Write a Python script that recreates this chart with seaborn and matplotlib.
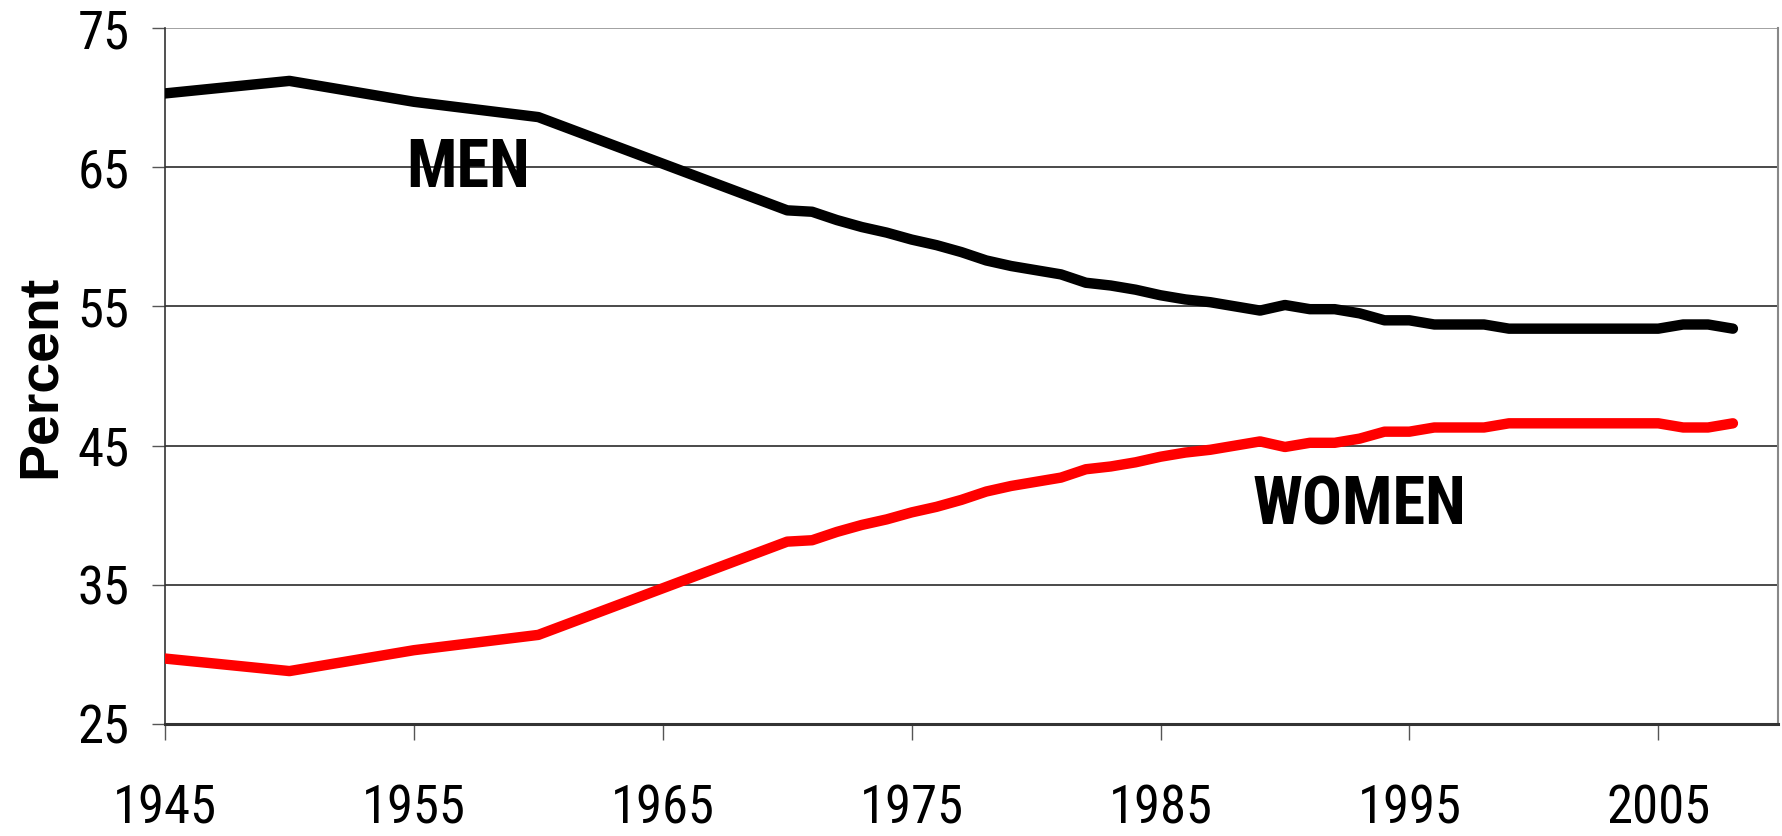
import seaborn as sns
import matplotlib.pyplot as plt
import pandas as pd

years = [1945, 1950, 1955, 1960, 1970, 1971, 1972, 1973, 1974, 1975, 1976, 1977,
         1978, 1979, 1980, 1981, 1982, 1983, 1984, 1985, 1986, 1987, 1988, 1989,
         1990, 1991, 1992, 1993, 1994, 1995, 1996, 1997, 1998, 1999, 2000, 2001,
         2002, 2003, 2004, 2005, 2006, 2007, 2008]

men = [70.3, 71.2, 69.7, 68.6, 61.9, 61.8, 61.2, 60.7, 60.3, 59.8, 59.4, 58.9,
       58.3, 57.9, 57.6, 57.3, 56.7, 56.5, 56.2, 55.8, 55.5, 55.3, 55.0, 54.7,
       55.1, 54.8, 54.8, 54.5, 54.0, 54.0, 53.7, 53.7, 53.7, 53.4, 53.4, 53.4,
       53.4, 53.4, 53.4, 53.4, 53.7, 53.7, 53.4]

women = [29.7, 28.8, 30.3, 31.4, 38.1, 38.2, 38.8, 39.3, 39.7, 40.2, 40.6, 41.1,
         41.7, 42.1, 42.4, 42.7, 43.3, 43.5, 43.8, 44.2, 44.5, 44.7, 45.0, 45.3,
         44.9, 45.2, 45.2, 45.5, 46.0, 46.0, 46.3, 46.3, 46.3, 46.6, 46.6, 46.6,
         46.6, 46.6, 46.6, 46.6, 46.3, 46.3, 46.6]

series_names = ["MEN", "WOMEN"]
x_ticks = [1945, 1955, 1965, 1975, 1985, 1995, 2005]
y_ticks = [25, 35, 45, 55, 65, 75]

df = pd.concat([
    pd.DataFrame({"year": years, "pct": men, "grupo": series_names[0]}),
    pd.DataFrame({"year": years, "pct": women, "grupo": series_names[1]}),
])

sns.set_style("white")
plt.rcParams["font.family"] = ["Roboto Condensed", "DejaVu Sans"]
plt.rcParams["text.color"] = "black"
plt.rcParams["xtick.color"] = "black"
plt.rcParams["ytick.color"] = "black"

fig = plt.figure(figsize=(17.82, 8.36), dpi=100)
ax = fig.add_axes([0.0926, 0.134, 0.905, 0.8325])

# horizontal gridlines (top one lighter, like the chart border)
for y in y_ticks[1:]:
    ax.axhline(y, color="#3a3a3a" if y < 75 else "#9a9a9a", lw=1.3, zorder=1)
n_grid = len(ax.lines)

sns.lineplot(data=df, x="year", y="pct", hue="grupo",
             palette={"MEN": "black", "WOMEN": "#ff0000"},
             legend=False, ax=ax)
for ln in ax.lines[n_grid:]:
    ln.set_linewidth(7.5)
    ln.set_zorder(3)
    ln.set_solid_capstyle("round")
    ln.set_solid_joinstyle("round")

ax.set_xlim(1945, 2009.8)
ax.set_ylim(25, 75)
ax.set_xticks(x_ticks)
ax.set_yticks(y_ticks)
ax.tick_params(axis="x", bottom=True, direction="out", length=11.5, width=1,
               color="#555555", labelcolor="black", pad=31, labelsize=38)
ax.tick_params(axis="y", left=True, direction="out", length=9.5, width=1,
               color="#555555", labelcolor="black", pad=16, labelsize=38)
ax.set_xlabel("")
ax.set_ylabel("Percent", family=["Liberation Sans", "DejaVu Sans"],
              fontweight="bold", fontsize=40, color="black")
ax.yaxis.set_label_coords(-0.061, 0.5)

ax.spines["left"].set_visible(True)
ax.spines["left"].set_color("#333333")
ax.spines["left"].set_linewidth(1.2)
ax.spines["bottom"].set_visible(True)
ax.spines["bottom"].set_color("#333333")
ax.spines["bottom"].set_linewidth(2.2)
ax.spines["right"].set_visible(True)
ax.spines["right"].set_color("#888888")
ax.spines["right"].set_linewidth(1.5)
ax.spines["top"].set_visible(False)

ax.text(1957.2, 64.9, "MEN", fontsize=48, fontweight="bold",
        ha="center", va="center", zorder=4)
ax.text(1993.0, 40.6, "WOMEN", fontsize=48, fontweight="bold",
        ha="center", va="center", zorder=4)

fig.savefig("out.png", dpi=100)
